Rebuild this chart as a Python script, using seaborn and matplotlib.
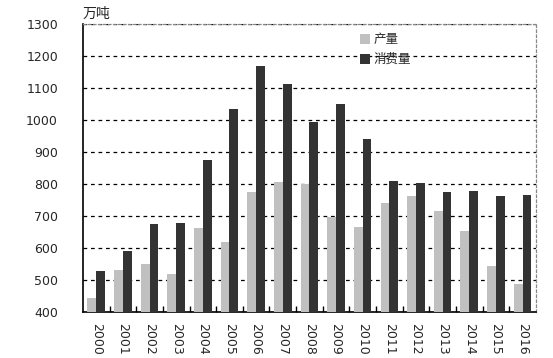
import numpy as np
import pandas as pd
import seaborn as sns
import matplotlib.pyplot as plt
from matplotlib.ticker import FixedLocator

# data
years = [str(y) for y in range(2000, 2017)]
production = [443, 531, 550, 519, 662, 619, 775, 806, 799, 697, 666, 741, 762, 716, 653, 544, 488]
consumption = [528, 591, 675, 678, 875, 1034, 1169, 1112, 994, 1050, 941, 809, 803, 775, 778, 762, 765]
series_names = ["产量", "消费量"]
yticks = list(range(400, 1301, 100))

df = pd.DataFrame({
    "year": years * 2,
    "value": production + consumption,
    "series": [series_names[0]] * len(years) + [series_names[1]] * len(years),
})

sns.set_style("white")
plt.rcParams['font.family'] = ['Noto Sans CJK SC', 'DejaVu Sans']

fig = plt.figure(figsize=(5.53, 3.58), dpi=100)
ax = fig.add_axes([0.150, 0.1285, 0.819, 0.8045])

sns.barplot(data=df, x="year", y="value", hue="series",
            palette=["#c0c0c0", "#333333"], width=0.66, saturation=1,
            edgecolor="none", linewidth=0, ax=ax, zorder=3)

ax.set_ylim(400, 1300)
ax.set_xlim(-0.5, len(years) - 0.5)
ax.set_yticks(yticks)
ax.set_yticklabels([str(t) for t in yticks], fontsize=9, family='DejaVu Sans')
ax.set_xticks(range(len(years)))
ax.set_xticklabels(years, rotation=270, fontsize=9, family='DejaVu Sans')
ax.tick_params(axis='x', which='major', length=0, pad=8)
ax.tick_params(axis='y', length=0, pad=18)
ax.xaxis.set_minor_locator(FixedLocator(np.arange(0.5, len(years) - 1, 1)))
ax.tick_params(axis='x', which='minor', direction='in', length=4, width=1, color='black', bottom=True)
ax.set_xlabel("")
ax.set_ylabel("")

ax.yaxis.grid(True, linestyle=(0, (3, 3)), color='black', linewidth=0.9, zorder=0)
ax.xaxis.grid(False)

for s in ['left', 'bottom']:
    ax.spines[s].set_color('black')
    ax.spines[s].set_linewidth(1.2)
for s in ['top', 'right']:
    ax.spines[s].set_color('#888888')
    ax.spines[s].set_linestyle((0, (2, 2)))
    ax.spines[s].set_linewidth(0.9)

ax.text(0.0, 1.01, "万吨", transform=ax.transAxes, fontsize=10, ha='left', va='bottom')

ax.legend(loc='upper left', bbox_to_anchor=(0.6, 0.985), frameon=False,
          fontsize=9, handlelength=0.8, handleheight=0.8, handletextpad=0.3,
          labelspacing=0.55, borderaxespad=0)

fig.savefig("out.png", dpi=100)
